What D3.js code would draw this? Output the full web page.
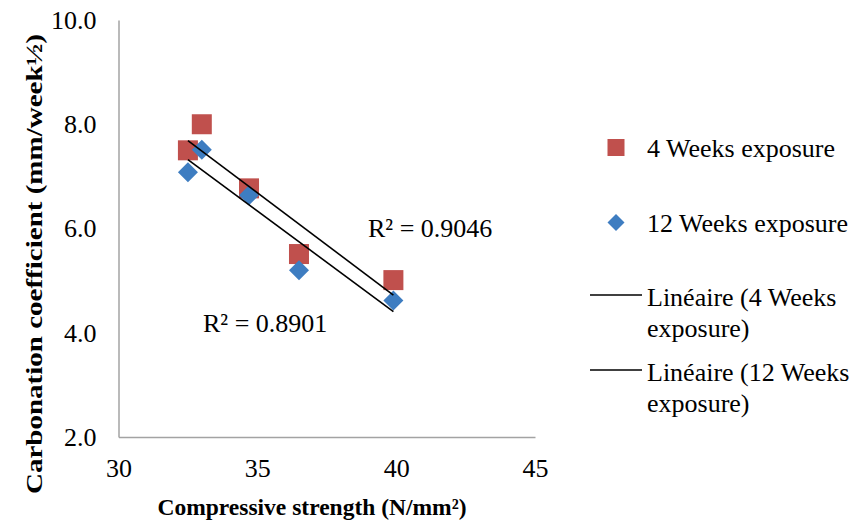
<!DOCTYPE html>
<html>
<head>
<meta charset="utf-8">
<script src="https://cdn.jsdelivr.net/npm/d3@7/dist/d3.min.js"></script>
<style>
  html, body { margin: 0; padding: 0; background: #fff; }
  svg { display: block; }
  svg text { font-family: "Liberation Serif", "Times New Roman", Times, "DejaVu Serif", serif; }
</style>
</head>
<body>
<svg id="chart" width="858" height="524"></svg>
<script>
// Compressive strength (N/mm²) of each mix
const strength4 = [32.5, 33.0, 34.7, 36.5, 39.9];
const strength12 = [32.5, 33.0, 34.7, 36.5, 39.9];
// Carbonation coefficient (mm/week½)
const carb4 = [7.50, 8.00, 6.77, 5.51, 5.01];
const carb12 = [7.08, 7.51, 6.64, 5.20, 4.62];
const seriesNames = ["4 Weeks exposure", "12 Weeks exposure"];
const trendNames = [["Linéaire (4 Weeks", "exposure)"], ["Linéaire (12 Weeks", "exposure)"]];
const rSquared = ["R² = 0.8901", "R² = 0.9046"];
const xTicks = [30, 35, 40, 45];
const yTicks = [2, 4, 6, 8, 10];

const RED = "#c0504d";
const BLUE = "#3e7dc1";
const AXIS = "#a3a3a3";

const svg = d3.select("#chart");
const x = d3.scaleLinear().domain([30, 45]).range([118.5, 535]);
const y = d3.scaleLinear().domain([2, 10]).range([437, 20]);

// axes (no tick marks, only labels and the two axis lines)
const xAxis = svg.append("g")
  .attr("transform", `translate(0,${y(2)})`)
  .call(d3.axisBottom(x).tickValues(xTicks).tickSize(0).tickPadding(22).tickFormat(d3.format("d")));
const yAxis = svg.append("g")
  .attr("transform", `translate(${x(30)},0)`)
  .call(d3.axisLeft(y).tickValues(yTicks).tickSize(0).tickPadding(22).tickFormat(d3.format(".1f")));
[xAxis, yAxis].forEach(g => {
  g.select(".domain").attr("stroke", AXIS).attr("stroke-width", 1.5);
  g.selectAll("text").attr("font-size", 26).attr("fill", "#000");
});

// axis titles
svg.append("text")
  .attr("x", 312).attr("y", 515)
  .attr("text-anchor", "middle").attr("font-weight", "bold").attr("font-size", 23.5)
  .text("Compressive strength (N/mm²)");
svg.append("text")
  .attr("transform", "translate(42,264) rotate(-90)")
  .attr("text-anchor", "middle").attr("font-weight", "bold").attr("font-size", 23.5)
  .attr("textLength", 460).attr("lengthAdjust", "spacingAndGlyphs")
  .text("Carbonation coefficient (mm/week½)");

// least-squares trend line for a series
function fit(xs, ys) {
  const mx = d3.mean(xs), my = d3.mean(ys);
  const sxy = d3.sum(xs, (v, i) => (v - mx) * (ys[i] - my));
  const sxx = d3.sum(xs, v => (v - mx) * (v - mx));
  const slope = sxy / sxx;
  const x0 = d3.min(xs), x1 = d3.max(xs);
  return [[x0, my + slope * (x0 - mx)], [x1, my + slope * (x1 - mx)]];
}

const pts4 = strength4.map((v, i) => [v, carb4[i]]);
const pts12 = strength12.map((v, i) => [v, carb12[i]]);

// 4 weeks: squares
const sq = 20;
svg.append("g").selectAll("rect").data(pts4).join("rect")
  .attr("x", d => x(d[0]) - sq / 2).attr("y", d => y(d[1]) - sq / 2)
  .attr("width", sq).attr("height", sq).attr("fill", RED);

// 12 weeks: diamonds
const diamond = d3.symbol().type(d3.symbolSquare).size(200);
svg.append("g").selectAll("path").data(pts12).join("path")
  .attr("d", diamond)
  .attr("transform", d => `translate(${x(d[0])},${y(d[1])}) rotate(45)`)
  .attr("fill", BLUE);

// trend lines
const line = d3.line().x(d => x(d[0])).y(d => y(d[1]));
[fit(strength4, carb4), fit(strength12, carb12)].forEach(seg => {
  svg.append("path").attr("d", line(seg)).attr("stroke", "#000").attr("stroke-width", 1.6).attr("fill", "none");
});

// R² labels
svg.append("text").attr("x", 368).attr("y", 237).attr("font-size", 26).text(rSquared[1]);
svg.append("text").attr("x", 203).attr("y", 332).attr("font-size", 26).text(rSquared[0]);

// legend
const lg = svg.append("g").attr("font-size", 26);
lg.append("rect").attr("x", 607.5).attr("y", 139).attr("width", 17).attr("height", 17).attr("fill", RED);
lg.append("text").attr("x", 647).attr("y", 157).text(seriesNames[0]);
lg.append("path").attr("d", d3.symbol().type(d3.symbolSquare).size(145))
  .attr("transform", "translate(616,222.5) rotate(45)").attr("fill", BLUE);
lg.append("text").attr("x", 647).attr("y", 231.5).text(seriesNames[1]);
[[295, 306], [370, 381]].forEach(([ly, ty], i) => {
  lg.append("line").attr("x1", 590).attr("x2", 642).attr("y1", ly).attr("y2", ly)
    .attr("stroke", "#000").attr("stroke-width", 1.6);
  lg.append("text").attr("x", 647).attr("y", ty).text(trendNames[i][0]);
  lg.append("text").attr("x", 647).attr("y", ty + 31).text(trendNames[i][1]);
});
</script>
</body>
</html>
